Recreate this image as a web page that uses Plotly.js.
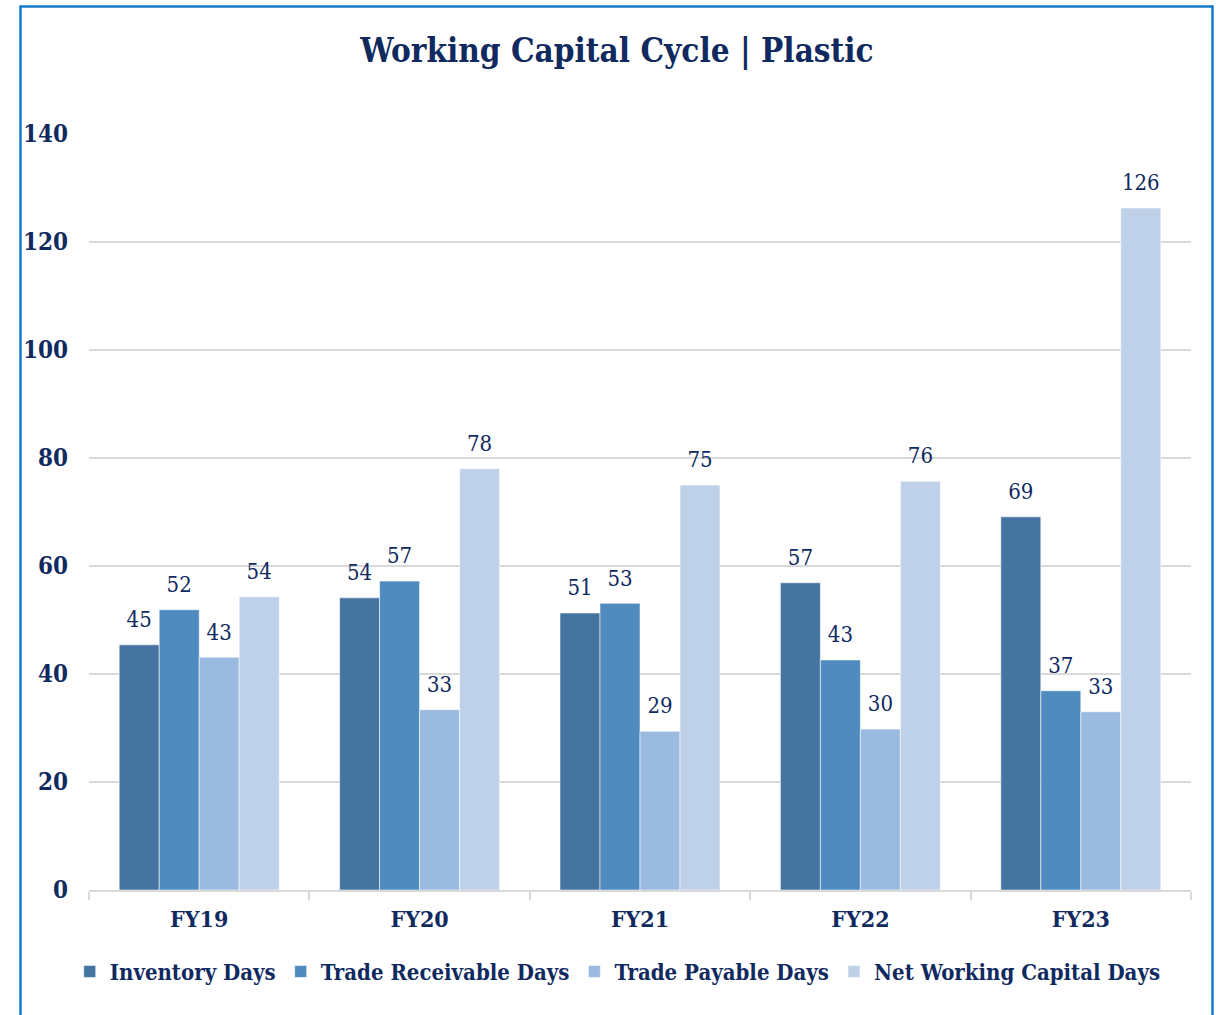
<!DOCTYPE html>
<html>
<head>
<meta charset="utf-8">
<script src="https://cdn.plot.ly/plotly-3.0.1.min.js"></script>
<style>
  html, body { margin: 0; padding: 0; background: #ffffff; }
  #chart { width: 1216px; height: 1015px; }
</style>
</head>
<body>
<div id="chart"></div>
<script>
// Working capital cycle (days) for the Plastic segment
const years = ['FY19', 'FY20', 'FY21', 'FY22', 'FY23'];
const inventoryDays = [45.4, 54.1, 51.3, 56.9, 69.1];
const receivableDays = [51.9, 57.2, 53.1, 42.6, 36.9];
const payableDays = [43.1, 33.4, 29.4, 29.8, 33.0];
const netWorkingCapitalDays = [54.3, 78.0, 75.0, 75.7, 126.3];
const yTicks = [0, 20, 40, 60, 80, 100, 120, 140];

const navy = '#102a5f';
const fontFamily = '"DejaVu Serif Condensed", "DejaVu Serif", serif';
const groupGap = 0.274;

const series = [
  { name: 'Inventory Days', values: inventoryDays, color: '#44749f' },
  { name: 'Trade Receivable Days', values: receivableDays, color: '#4f8bbf' },
  { name: 'Trade Payable Days', values: payableDays, color: '#9abadf' },
  { name: 'Net Working Capital Days', values: netWorkingCapitalDays, color: '#bed1e9' }
];

// grouped bars
const barTraces = series.map(s => ({
  type: 'bar',
  name: s.name,
  x: years,
  y: s.values,
  marker: { color: s.color, line: { color: 'rgba(255,255,255,0.55)', width: 1 } },
  hoverinfo: 'x+y+name'
}));

// value labels: grouped text points sitting above each bar
// (the invisible marker sets the gap between bar top and label)
const labelTraces = series.map(s => ({
  type: 'scatter',
  mode: 'markers+text',
  name: s.name,
  showlegend: false,
  x: years,
  y: s.values,
  text: s.values.map(v => v.toFixed(0)),
  textposition: 'top center',
  textfont: { family: fontFamily, size: 22, color: navy },
  marker: { size: 18, opacity: 0 },
  cliponaxis: false,
  hoverinfo: 'skip'
}));

const layout = {
  width: 1216,
  height: 1015,
  margin: { l: 89, r: 25, t: 134, b: 125, autoexpand: false },
  paper_bgcolor: '#ffffff',
  plot_bgcolor: '#ffffff',
  font: { family: fontFamily, color: navy },
  title: {
    text: '<b>Working Capital Cycle | Plastic</b>',
    font: { family: fontFamily, size: 33, color: navy },
    x: 0.5074,
    xanchor: 'center',
    y: 0.95,
    yanchor: 'middle'
  },
  barmode: 'group',
  bargap: groupGap,
  bargroupgap: 0,
  scattermode: 'group',
  scattergap: groupGap,
  xaxis: {
    type: 'category',
    showline: true,
    linecolor: '#d9d9d9',
    linewidth: 2,
    ticks: 'outside',
    tickson: 'boundaries',
    ticklen: 8,
    tickwidth: 2,
    tickcolor: '#d9d9d9',
    showgrid: false,
    tickfont: { family: fontFamily, size: 23, color: navy, weight: 'bold' },
    ticklabelstandoff: 7
  },
  yaxis: {
    range: [0, 140],
    tickvals: yTicks,
    ticktext: yTicks.map(String),
    showgrid: true,
    gridcolor: '#d9d9d9',
    gridwidth: 2,
    zeroline: false,
    showline: false,
    ticks: '',
    tickfont: { family: fontFamily, size: 24, color: navy, weight: 'bold' },
    ticklabelstandoff: 20
  },
  legend: {
    orientation: 'h',
    xref: 'container',
    x: 0.508,
    xanchor: 'center',
    y: -0.108,
    yanchor: 'middle',
    font: { family: fontFamily, size: 22, color: navy, weight: 'bold' },
    itemclick: false,
    itemdoubleclick: false
  },
  shapes: [
    {
      type: 'rect',
      xref: 'paper', yref: 'paper',
      x0: (20.5 - 89) / 1102, x1: (1212.5 - 89) / 1102,
      y0: (890 - 1030) / 756, y1: (890 - 6.5) / 756,
      line: { color: '#1479c9', width: 2.5 },
      fillcolor: 'rgba(0,0,0,0)',
      layer: 'above'
    }
  ],
  showlegend: true
};

Plotly.newPlot('chart', barTraces.concat(labelTraces), layout, { displayModeBar: false, staticPlot: true });
</script>
</body>
</html>
